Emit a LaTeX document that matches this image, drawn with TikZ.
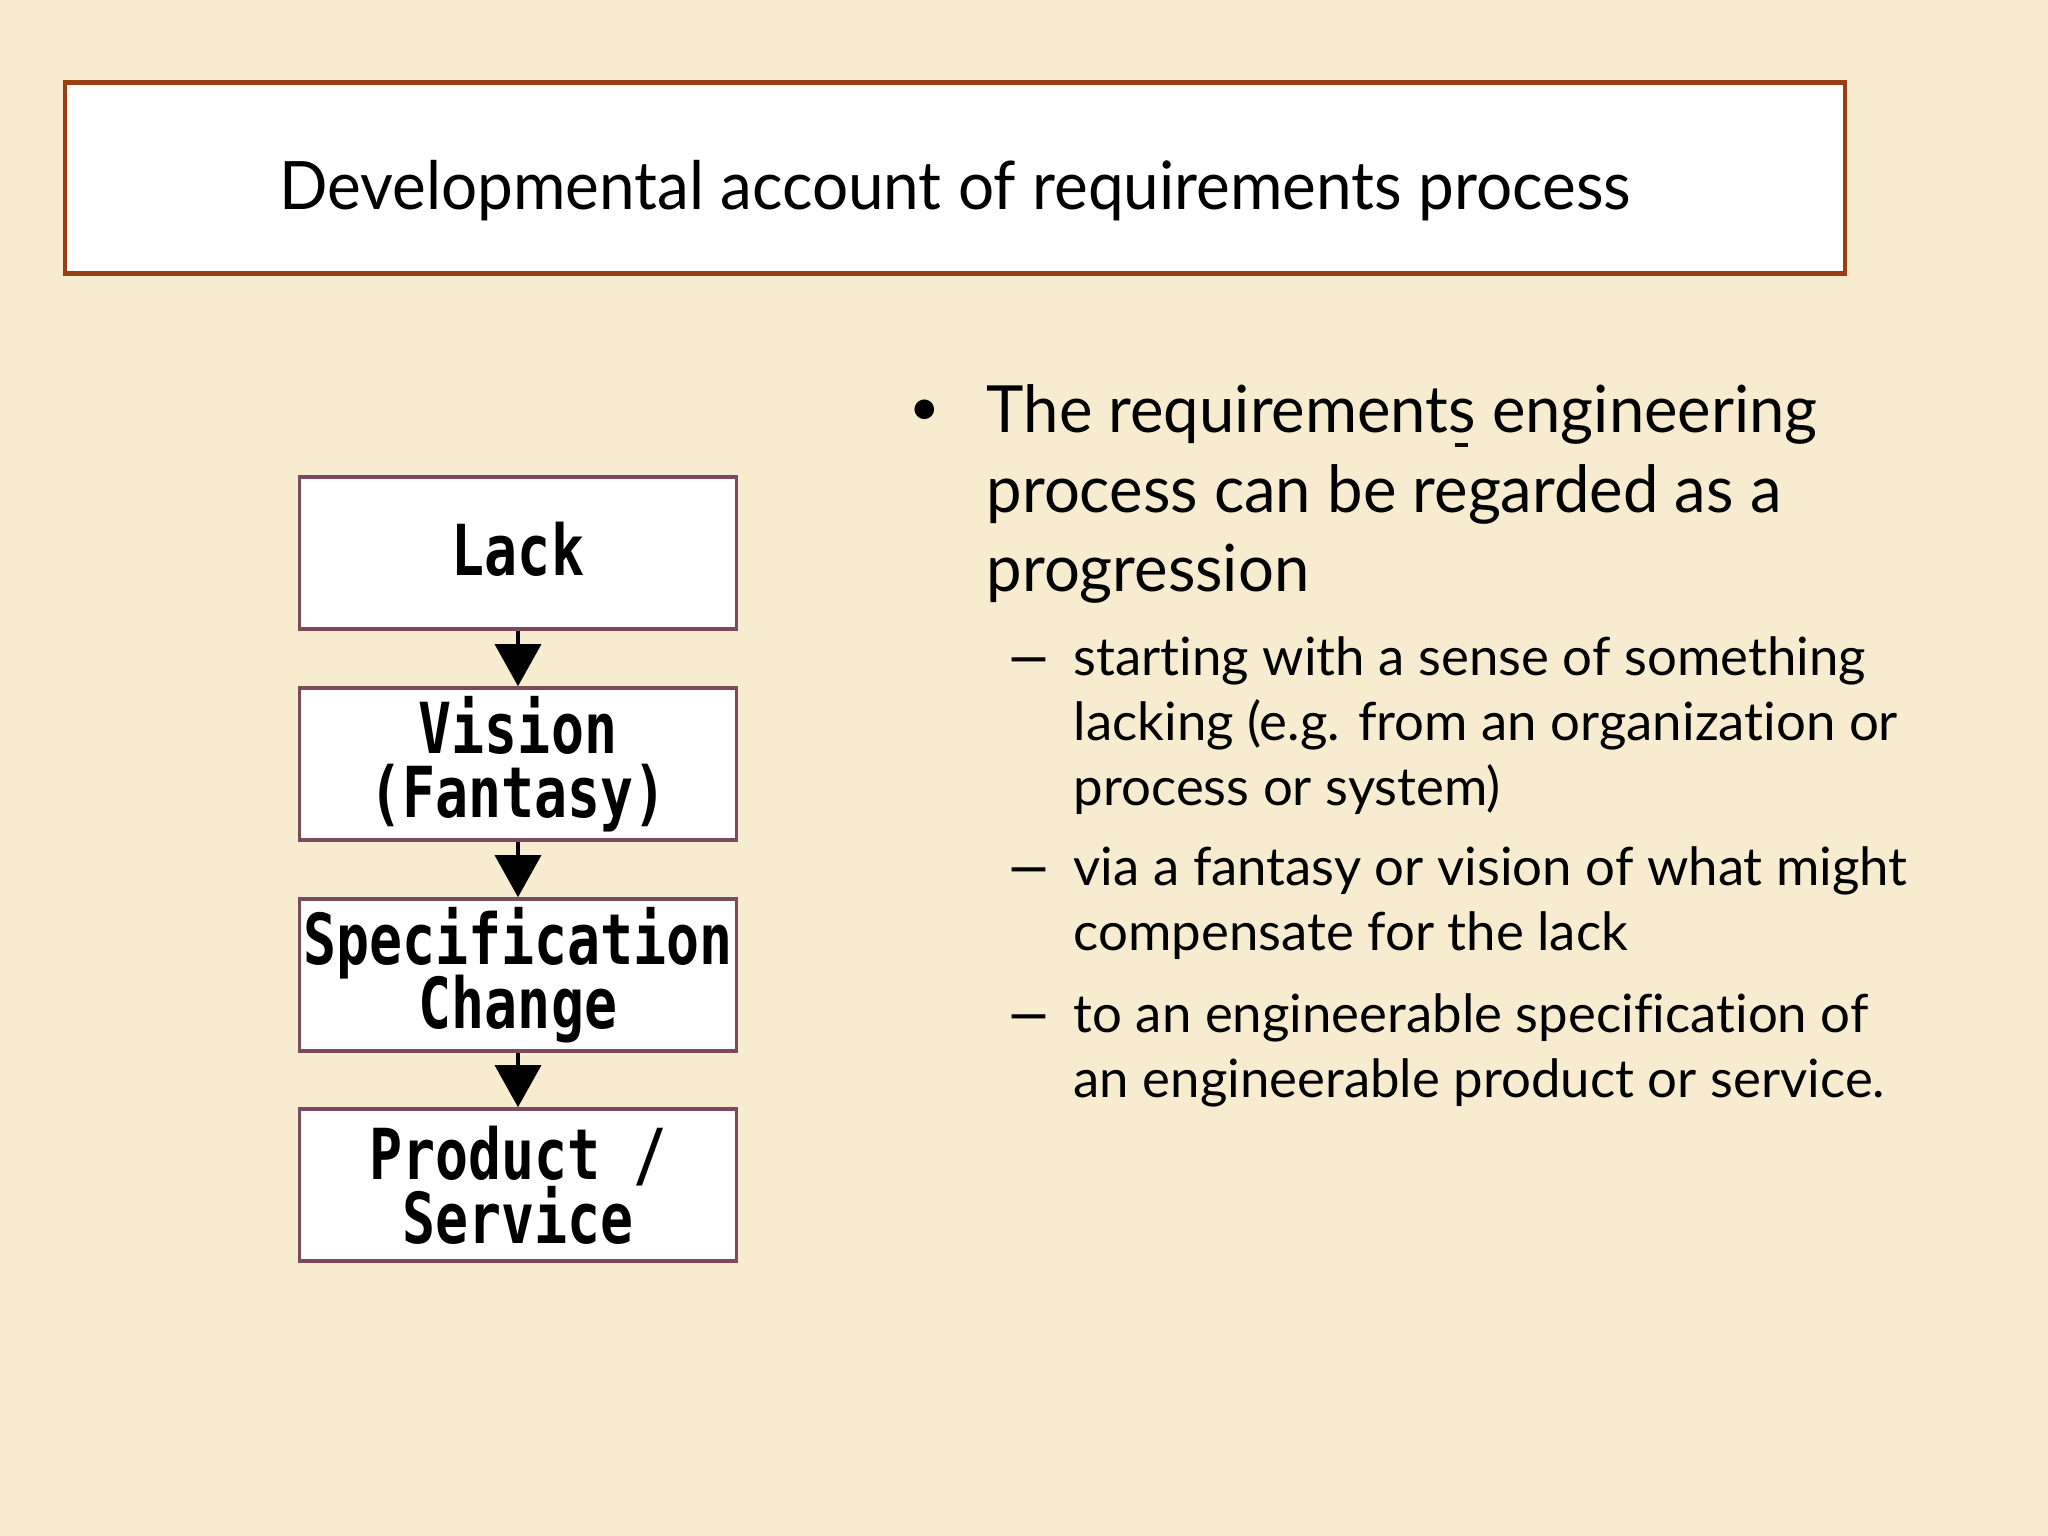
\documentclass[tikz,border=0pt]{standalone}
\usepackage{fontspec}
\setmainfont{Lato}[Ligatures={NoCommon,NoDiscretionary,NoRare}]
\newfontfamily\boxfont{DejaVu Sans Mono}[BoldFont={DejaVu Sans Mono Bold}]
\usetikzlibrary{arrows.meta}
\definecolor{paper}{HTML}{F7ECD0}
\definecolor{titleborder}{HTML}{9C3D14}
\definecolor{boxborder}{HTML}{7B4A5C}
\newcommand{\sq}[1]{\scalebox{0.78}[1]{#1}}
\newcommand{\mainsq}[1]{\scalebox{0.974}[1]{#1}}
\newcommand{\subdash}{\scalebox{1.6}[1.2]{–}}
\newcommand{\boxfontsel}{\boxfont\bfseries\fontsize{20}{18.2}\selectfont\setlength{\lineskiplimit}{-20pt}\relax}
\tikzset{
  flowbox/.style={draw=boxborder, line width=1pt, fill=white, minimum width=4.37cm, minimum height=1.52cm,
    inner sep=0pt, align=center, font=\boxfontsel},
  flowarrow/.style={line width=0.9pt, -{Triangle[width=0.46cm,length=0.42cm]}},
  mainline/.style={anchor=base west, inner sep=0pt, font=\fontsize{18.5}{22}\selectfont},
  subline/.style={anchor=base west, inner sep=0pt, font=\fontsize{15}{18}\selectfont},
}
\begin{document}
\begin{tikzpicture}[x=0.01cm, y=-0.01cm]
\fill[paper] (0,0) rectangle (2048,1536);
\useasboundingbox (0,0) rectangle (2048,1536);
% title
\node[draw=titleborder, line width=1.2pt, fill=white, minimum width=17.79cm, minimum height=1.91cm, inner sep=0pt] (titlebox) at (955,178) {};
\node[anchor=base, inner sep=0pt, font=\fontsize{19}{22}\selectfont] (title) at (955,209) {\scalebox{0.955}[1]{Developmental account of requirements process}};
% flowchart
\node[flowbox] (lack) at (518,553) {\raisebox{0.08cm}{\sq{Lack}}};
\node[flowbox] (vision) at (518,764) {\sq{Vision}\\\sq{(Fantasy)}};
\node[flowbox] (spec) at (518,975) {\sq{Specification}\\\sq{Change}};
\node[flowbox] (prod) at (518,1185) {\sq{Product /}\\\sq{Service}};
\draw[flowarrow] (lack) -- (vision);
\draw[flowarrow] (vision) -- (spec);
\draw[flowarrow] (spec) -- (prod);
% bullets
\node[anchor=base west, inner sep=0pt, font=\fontsize{15}{18}\selectfont] (b1) at (909,425) {•};
\node[mainline] (m1) at (986,432) {\mainsq{The requirements engineering}};
\draw[line width=0.9pt, black!85!boxborder] (1455,445) -- (1468,445);
\node[mainline] (m2) at (986,512) {\mainsq{process can be regarded as a}};
\node[mainline] (m3) at (986,591) {\mainsq{progression}};
\node[subline] (d1) at (1004,678) {\subdash};
\node[subline] (s1a) at (1073,675) {starting with a sense of something};
\node[subline] (s1b) at (1073,740) {lacking (e.g. from an organization or};
\node[subline] (s1c) at (1073,805) {process or system)};
\node[subline] (d2) at (1004,888) {\subdash};
\node[subline] (s2a) at (1073,885) {via a fantasy or vision of what might};
\node[subline] (s2b) at (1073,950) {compensate for the lack};
\node[subline] (d3) at (1004,1035) {\subdash};
\node[subline] (s3a) at (1073,1032) {to an engineerable specification of};
\node[subline] (s3b) at (1073,1097) {an engineerable product or service.};
\end{tikzpicture}
\end{document}
